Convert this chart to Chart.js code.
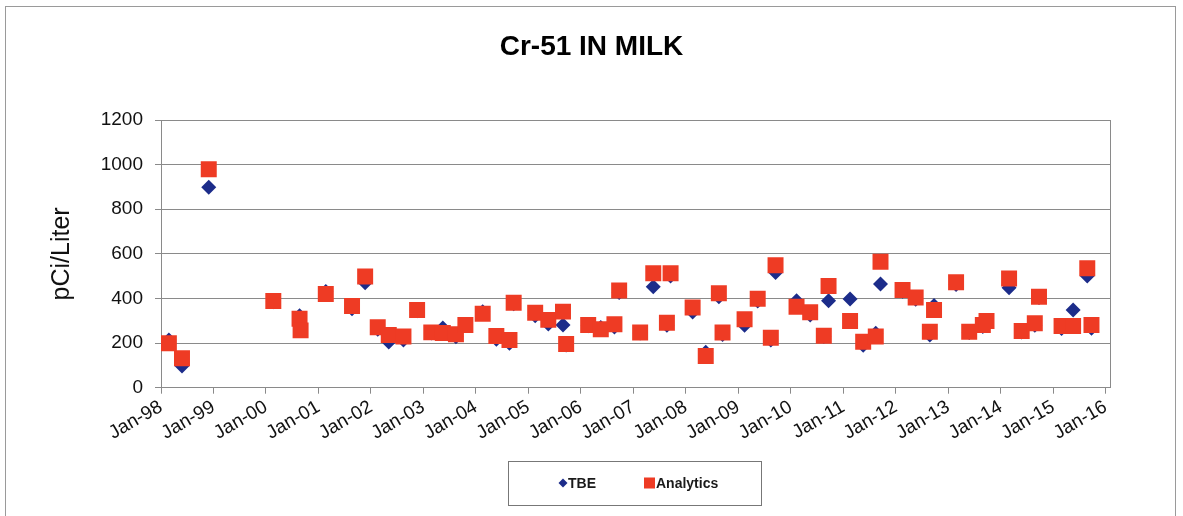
<!DOCTYPE html>
<html>
<head>
<meta charset="utf-8">
<script src="https://cdn.jsdelivr.net/npm/chart.js@4.4.1/dist/chart.umd.min.js"></script>
<style>
  html, body { margin: 0; padding: 0; background: #fff; }
  #wrap { position: relative; width: 1183px; height: 516px; }
</style>
</head>
<body>
<div id="wrap"><canvas id="chart" width="1183" height="516"></canvas></div>
<script>
// sample dates as decimal years (Jan-98 = 1998.0)
const sampleDates = [
  1998.15, 1998.40, 1998.91,
  2000.14, 2000.64, 2000.66,
  2001.14, 2001.64, 2001.89,
  2002.13, 2002.34, 2002.62, 2002.88,
  2003.15, 2003.37, 2003.62, 2003.80,
  2004.13, 2004.39, 2004.64, 2004.72,
  2005.13, 2005.38, 2005.66, 2005.72,
  2006.14, 2006.38, 2006.64, 2006.73,
  2007.13, 2007.38, 2007.64, 2007.71,
  2008.13, 2008.38, 2008.63, 2008.70,
  2009.12, 2009.37, 2009.62, 2009.71,
  2010.11, 2010.37, 2010.63, 2010.72,
  2011.13, 2011.38, 2011.62, 2011.71,
  2012.13, 2012.38, 2012.65, 2012.73,
  2013.15, 2013.40, 2013.66, 2013.73,
  2014.16, 2014.40, 2014.65, 2014.73,
  2015.16, 2015.38, 2015.65, 2015.73
];
const tbe = [
  214, 97, 899,
  385, 322, 260,
  431, 354, 471,
  262, 205, 214, 345,
  245, 268, 228, 283,
  341, 217, 199, 376,
  322, 285, 281, 191,
  278, 270, 272, 427,
  245, 453, 280, 501,
  339, 159, 408, 239,
  280, 389, 214, 516,
  390, 326, 230, 390,
  398, 190, 244, 465,
  432, 396, 236, 368,
  463, 248, 274, 295,
  448, 250, 280, 404,
  265, 348, 501, 266
];
const analytics = [
  199, 132, 979,
  389, 309, 257,
  420, 366, 498,
  271, 236, 229, 348,
  248, 245, 240, 281,
  332, 232, 214, 381,
  336, 304, 341, 196,
  281, 262, 284, 436,
  247, 513, 291, 513,
  359, 142, 423, 247,
  307, 399, 224, 549,
  363, 338, 233, 456,
  299, 206, 229, 565,
  438, 404, 251, 348,
  473, 251, 281, 299,
  490, 254, 289, 408,
  277, 277, 535, 281
];
const tickYears  = [1998, 1999, 2000, 2001, 2002, 2003, 2004, 2005, 2006, 2007, 2008, 2009, 2010, 2011, 2012, 2013, 2014, 2015, 2016];
const tickLabels = ['Jan-98','Jan-99','Jan-00','Jan-01','Jan-02','Jan-03','Jan-04','Jan-05','Jan-06','Jan-07','Jan-08','Jan-09','Jan-10','Jan-11','Jan-12','Jan-13','Jan-14','Jan-15','Jan-16'];

const FONT  = "'Liberation Sans', Arial, sans-serif";
const BLUE  = '#1c2c8a';
const RED   = '#ee3b24';
const GRID  = '#8a8a8a';

// outer frame, right edge of plot area and the boxed legend
const framePlugin = {
  id: 'frame',
  afterDraw(chart) {
    const { ctx, chartArea: ca } = chart;
    ctx.save();
    ctx.strokeStyle = '#9a9a9a';
    ctx.lineWidth = 1;
    ctx.strokeRect(5.5, 6.5, 1170, 520);

    ctx.strokeStyle = GRID;
    ctx.beginPath();
    ctx.moveTo(Math.round(ca.right) + 0.5, ca.top);
    ctx.lineTo(Math.round(ca.right) + 0.5, ca.bottom);
    ctx.stroke();

    // legend
    const cx = Math.round((ca.left + ca.right) / 2);
    const ly = 483;
    ctx.strokeStyle = '#777';
    ctx.strokeRect(cx - 127.5, 461.5, 253, 44);

    ctx.fillStyle = BLUE;
    ctx.beginPath();
    ctx.moveTo(cx - 73, ly - 4.5);
    ctx.lineTo(cx - 68.5, ly);
    ctx.lineTo(cx - 73, ly + 4.5);
    ctx.lineTo(cx - 77.5, ly);
    ctx.closePath();
    ctx.fill();

    ctx.fillStyle = RED;
    ctx.fillRect(cx + 8, ly - 5.5, 11, 11);

    ctx.fillStyle = '#1a1a1a';
    ctx.font = 'bold 14px ' + FONT;
    ctx.textBaseline = 'middle';
    ctx.fillText('TBE', cx - 68, ly + 1);
    ctx.fillText('Analytics', cx + 20, ly + 1);
    ctx.restore();
  }
};

new Chart(document.getElementById('chart'), {
  type: 'scatter',
  data: {
    datasets: [
      {
        label: 'TBE',
        data: sampleDates.map((d, i) => ({ x: d, y: tbe[i] })),
        pointStyle: 'rectRot', pointRadius: 7.5, pointHoverRadius: 7.5,
        backgroundColor: BLUE, borderColor: BLUE, borderWidth: 0,
        order: 2,
      },
      {
        label: 'Analytics',
        data: sampleDates.map((d, i) => ({ x: d, y: analytics[i] })),
        pointStyle: 'rect', pointRadius: 11.3, pointHoverRadius: 11.3,
        backgroundColor: RED, borderColor: RED, borderWidth: 0,
        order: 1,
      },
    ],
  },
  options: {
    responsive: false,
    animation: false,
    layout: { padding: 0 },
    plugins: {
      legend: { display: false },
      tooltip: { enabled: false },
      title: {
        display: true, text: 'Cr-51 IN MILK', color: '#000',
        font: { family: FONT, size: 28, weight: 'bold' },
        padding: { top: 30, bottom: 56.4 },
      },
    },
    scales: {
      x: {
        type: 'linear', min: 1998, max: 2016.083,
        afterBuildTicks: s => { s.ticks = tickYears.map(v => ({ value: v })); },
        afterFit: s => { s.height = 128.3; },
        grid: { drawOnChartArea: false, drawTicks: true, tickLength: 6, color: GRID },
        border: { color: GRID },
        ticks: {
          autoSkip: false, minRotation: 30, maxRotation: 30, padding: 2,
          color: '#111', font: { family: FONT, size: 19 },
          callback: (v, i) => tickLabels[i],
        },
      },
      y: {
        min: 0, max: 1200,
        afterFit: s => { s.width = 161; },
        grid: { color: GRID, tickLength: 6 },
        border: { color: GRID },
        ticks: {
          stepSize: 200, padding: 12, color: '#111', font: { family: FONT, size: 19 },
          callback: v => String(v),
        },
        title: {
          display: true, text: 'pCi/Liter', color: '#111',
          font: { family: FONT, size: 25 },
          padding: { top: 47 },
        },
      },
      // empty right-hand box: keeps the plot area clear of the right frame
      yRight: {
        position: 'right', display: true,
        afterFit: s => { s.width = 73; },
        grid: { display: false }, border: { display: false }, ticks: { display: false },
      },
    },
  },
  plugins: [framePlugin],
});
</script>
</body>
</html>
